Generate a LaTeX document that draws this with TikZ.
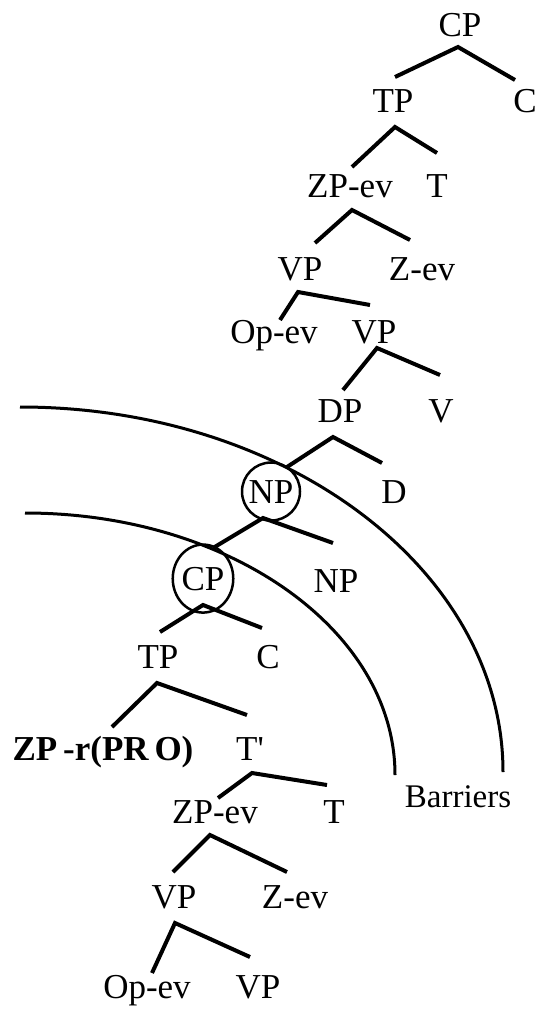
\documentclass[tikz,border=0pt]{standalone}
\usepackage{fontspec}
\setmainfont{Liberation Serif}
\usetikzlibrary{shapes.geometric}
\tikzset{
  cat/.style={anchor=base,inner sep=0pt,font=\fontsize{35}{42}\selectfont},
  branch/.style={line width=4pt},
  barrier/.style={line width=3pt},
  ring/.style={cat,circle,draw,line width=2.5pt,minimum size=58pt},
  oval/.style={cat,ellipse,draw,line width=2.5pt,minimum width=54pt,minimum height=68pt},
}

\begin{document}
\begin{tikzpicture}[x=1pt,y=-1pt]
  \useasboundingbox (0,0) rectangle (541,1011);
  % barriers
  \draw[barrier] (20,407) arc[start angle=-90,end angle=0,x radius=483,y radius=365];
  \draw[barrier] (25,513) arc[start angle=-90,end angle=0,x radius=370,y radius=262];
  \node[cat,font=\fontsize{33}{40}\selectfont] (barriers) at (458,807) {Barriers};
  % categories
  \foreach \n/\x/\y/\t in {
    cpTop/460/37/CP, tpTop/393/113/TP, cTop/525/113/C,
    zpTop/350/197/ZP-ev, tTop/437/197/T,
    vpTop/300/280/VP, zTop/422/280/Z-ev,
    opTop/274/343/Op-ev, vpMid/374/343/VP,
    dp/340/422/DP, v/441/422/V, d/394/503/D,
    npLow/336/592/NP, tpLow/158/668/TP, cLow/268/668/C,
    zpr/103/760/\textbf{ZP\,-r(PR\,O)}, tbar/250/760/T\textquotesingle,
    zpLow/215/823/ZP-ev, tLow/334/823/T,
    vpLow/174/908/VP, zLow/295/908/Z-ev,
    opLow/147/998/Op-ev, vpEnd/258/998/VP}
    \node[cat] (\n) at (\x,\y) {\t};
  \node[ring] (npRing) at (271,503) {NP};
  \node[oval] (cpRing) at (203,590) {CP};
  % branches
  \foreach \p/\px/\py/\l/\lx/\ly/\r/\rx/\ry in {
    cpTop/-2/10/tpTop/2/-36/cTop/-10/-33,
    tpTop/2/14/zpTop/2/-30/tTop/0/-44,
    zpTop/2/13/vpTop/15/-37/zTop/-12/-40,
    vpTop/-2/12/opTop/6/-23/vpMid/-4/-38,
    vpMid/3/5/dp/3/-32/v/-1/-47,
    dp/-7/15/npRing/16/-36/d/-12/-40,
    npRing/-8/15/cpRing/10/-42/npLow/-3/-49,
    cpRing/0/15/tpLow/2/-36/cLow/-6/-40,
    tpLow/-1/15/zpr/9/-33/tbar/-3/-45,
    tbar/2/13/zpLow/3/-25/tLow/-7/-38,
    zpLow/-5/12/vpLow/-1/-36/zLow/-8/-36,
    vpLow/1/15/opLow/5/-25/vpEnd/-8/-41}
    \draw[branch] ([shift={(\lx,\ly)}]\l.base) -- ([shift={(\px,\py)}]\p.base)
      -- ([shift={(\rx,\ry)}]\r.base);
\end{tikzpicture}
\end{document}
